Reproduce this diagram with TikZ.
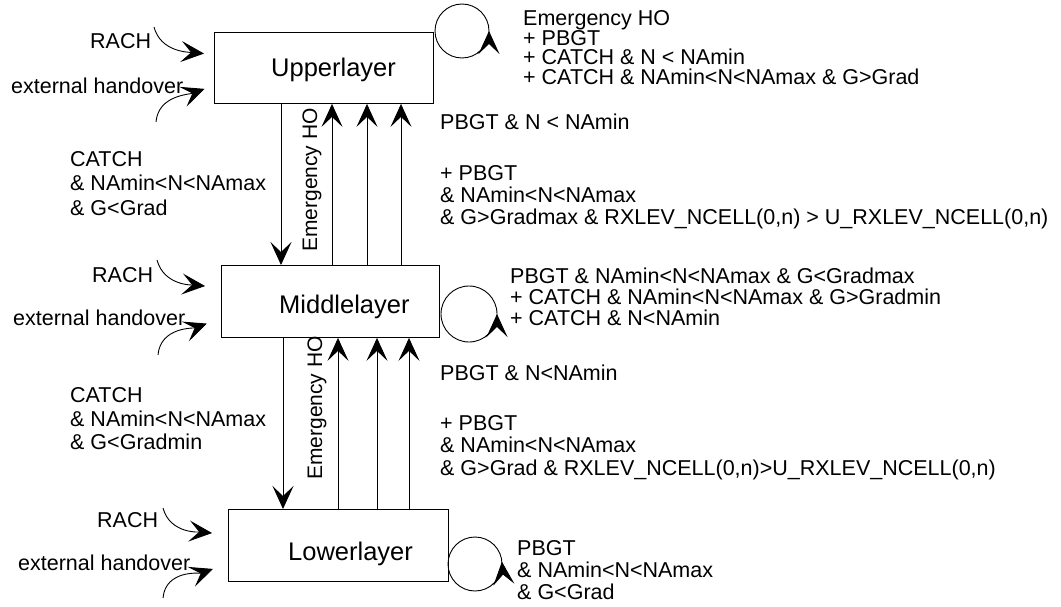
\documentclass[tikz,border=0pt]{standalone}
\usepackage{fontspec}
\setmainfont{Liberation Sans}
\usetikzlibrary{arrows.meta,calc}
\begin{document}
\begin{tikzpicture}[x=1pt,y=-1pt,
  box/.style={draw, line width=0.9pt, inner sep=0pt, anchor=north west},
  arr/.style={line width=0.9pt, -{Stealth[length=23pt,width=21pt,inset=10pt]}},
  ln/.style={line width=0.9pt},
  txt/.style={anchor=base west, inner sep=0pt, font=\fontsize{21.5}{24}\selectfont},
  lbl/.style={anchor=base west, inner sep=0pt, font=\fontsize{25.5}{28}\selectfont},
  vtxt/.style={anchor=center, inner sep=0pt, rotate=90, font=\fontsize{21}{24}\selectfont}]
\useasboundingbox (0,0) rectangle (1061,607);
% boxes
\node[box, minimum width=219pt, minimum height=71pt] (U) at (214,32) {};
\node[box, minimum width=218pt, minimum height=72pt] (M) at (221,265) {};
\node[box, minimum width=220pt, minimum height=72pt] (L) at (228,509) {};
\node[lbl] (Ut) at (271,77) {Upperlayer};
\node[lbl] (Mt) at (279,313) {Middlelayer};
\node[lbl] (Lt) at (288,560) {Lowerlayer};
% columns
\coordinate (a1) at (281,0);
\coordinate (b1) at (332,0);
\coordinate (b2) at (367,0);
\coordinate (b3) at (401,0);
\coordinate (a2) at (283,0);
\coordinate (c1) at (338,0);
\coordinate (c2) at (377,0);
\coordinate (c3) at (409,0);
\draw[arr] (a1 |- U.south) -- (a1 |- M.north);
\draw[arr] (b1 |- M.north) -- (b1 |- U.south);
\draw[arr] (b2 |- M.north) -- (b2 |- U.south);
\draw[arr] (b3 |- M.north) -- (b3 |- U.south);
\draw[arr] (a2 |- M.south) -- (a2 |- L.north);
\draw[arr] (c1 |- L.north) -- (c1 |- M.south);
\draw[arr] (c2 |- L.north) -- (c2 |- M.south);
\draw[arr] (c3 |- L.north) -- (c3 |- M.south);
\node[vtxt] (eu) at (312,180) {Emergency HO};
\node[vtxt] (el) at (317,408) {Emergency HO};
% incoming arrows
\coordinate (r1) at (154,27);
\coordinate (e1) at (156,122);
\coordinate (r2) at (157,260);
\coordinate (e2) at (158,355);
\coordinate (r3) at (163,508);
\coordinate (e3) at (163,598);
\draw[arr, shorten >=10pt] (r1) to[out=-75, in=175] ([yshift=13.5pt]U.west);
\draw[arr, shorten >=10pt] (e1) to[out=85, in=200] ([yshift=-17.5pt]U.west);
\draw[arr, shorten >=16pt] (r2) to[out=-75, in=175] ([yshift=14pt]M.west);
\draw[arr, shorten >=15pt] (e2) to[out=85, in=200] ([yshift=-17pt]M.west);
\draw[arr, shorten >=16pt] (r3) to[out=-75, in=175] ([yshift=11pt]L.west);
\draw[arr, shorten >=16pt] (e3) to[out=85, in=200] ([yshift=-18pt]L.west);
% self loops
\coordinate (cu) at (462,31);
\coordinate (cm) at (469,314);
\coordinate (cl) at (475,564);
\draw[ln] (cu) circle[radius=27];
\draw[arr] ($(cu)+(55:27)$) arc[start angle=55, end angle=0, radius=27];
\draw[ln] (cm) circle[radius=28];
\draw[arr] ($(cm)+(55:28)$) arc[start angle=55, end angle=0, radius=28];
\draw[ln] (cl) circle[radius=27];
\draw[arr] ($(cl)+(50:27)$) arc[start angle=50, end angle=-5, radius=27];
% left texts
\node[txt] (t1) at (90,49) {RACH};
\node[txt] (t2) at (11,94) {external handover};
\node[txt] (t3) at (70,167) {CATCH};
\node[txt] (t4) at (70,191) {\& NAmin<N<NAmax};
\node[txt] (t5) at (70,215) {\& G<Grad};
\node[txt] (t6) at (92,282) {RACH};
\node[txt] (t7) at (13,325) {external handover};
\node[txt] (t8) at (70,402) {CATCH};
\node[txt] (t9) at (70,426) {\& NAmin<N<NAmax};
\node[txt] (t10) at (70,449) {\& G<Gradmin};
\node[txt] (t11) at (97,527) {RACH};
\node[txt] (t12) at (18,570) {external handover};
% right texts
\node[txt] (s1) at (523,26) {Emergency HO};
\node[txt] (s2) at (523,45.5) {+ PBGT};
\node[txt] (s3) at (523,65) {+ CATCH \& N < NAmin};
\node[txt] (s4) at (523,84.5) {+ CATCH \& NAmin<N<NAmax \& G>Grad};
\node[txt] (s5) at (440,130) {PBGT \& N < NAmin};
\node[txt] (s6) at (440,181) {+ PBGT};
\node[txt] (s7) at (440,203) {\& NAmin<N<NAmax};
\node[txt] (s8) at (440,225) {\& G>Gradmax \& RXLEV\_NCELL(0,n) > U\_RXLEV\_NCELL(0,n)};
\node[txt] (s9) at (510,283) {PBGT \& NAmin<N<NAmax \& G<Gradmax};
\node[txt] (s10) at (510,304) {+ CATCH \& NAmin<N<NAmax \& G>Gradmin};
\node[txt] (s11) at (510,325) {+ CATCH \& N<NAmin};
\node[txt] (s12) at (440,380) {PBGT \& N<NAmin};
\node[txt] (s13) at (440,430) {+ PBGT};
\node[txt] (s14) at (440,452) {\& NAmin<N<NAmax};
\node[txt] (s15) at (440,475) {\& G>Grad \& RXLEV\_NCELL(0,n)>U\_RXLEV\_NCELL(0,n)};
\node[txt] (s16) at (517,555) {PBGT};
\node[txt] (s17) at (517,577) {\& NAmin<N<NAmax};
\node[txt] (s18) at (517,599) {\& G<Grad};
\end{tikzpicture}
\end{document}
